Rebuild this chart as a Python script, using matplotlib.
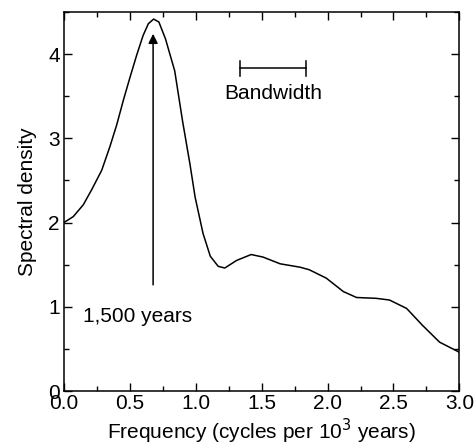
import matplotlib.pyplot as plt
from matplotlib.ticker import MultipleLocator

plt.rcParams['font.family'] = ['Liberation Sans', 'DejaVu Sans']

# Spectral density curve
freq = [0.00, 0.07, 0.146, 0.21, 0.286, 0.348, 0.40, 0.45, 0.50, 0.55, 0.60, 0.64,
        0.68, 0.72, 0.77, 0.84, 0.90, 0.955, 0.995, 1.055, 1.11, 1.17, 1.22, 1.31,
        1.42, 1.51, 1.64, 1.79, 1.86, 1.99, 2.12, 2.22, 2.37, 2.47, 2.60, 2.72,
        2.85, 3.00]
density = [2.00, 2.07, 2.21, 2.39, 2.62, 2.90, 3.16, 3.45, 3.72, 3.98, 4.22, 4.36,
           4.415, 4.38, 4.18, 3.80, 3.20, 2.70, 2.30, 1.87, 1.60, 1.48, 1.46, 1.55,
           1.62, 1.59, 1.51, 1.47, 1.44, 1.34, 1.18, 1.11, 1.10, 1.08, 0.98, 0.78,
           0.58, 0.46]

# Annotations
peak_freq = 0.676
arrow_from = 1.26
arrow_to = 4.24
peak_label = "1,500 years"
band_start, band_end, band_y = 1.336, 1.833, 3.83
band_label = "Bandwidth"

fs = 15

fig = plt.figure(figsize=(4.76, 4.46), dpi=100)
ax = fig.add_axes([0.1345, 0.1233, 0.8305, 0.85])

ax.plot(freq, density, color='black', linewidth=1.1)

# Peak arrow
ax.annotate('', xy=(peak_freq, arrow_to), xytext=(peak_freq, arrow_from),
            arrowprops=dict(arrowstyle='-|>', color='black', lw=1.1,
                            mutation_scale=14, shrinkA=0, shrinkB=0))
ax.text(0.56, 0.89, peak_label, fontsize=fs, ha='center', va='center')

# Bandwidth bar
ax.plot([band_start, band_end], [band_y, band_y], color='black', linewidth=1.1)
ax.plot([band_start, band_start], [band_y - 0.09, band_y + 0.09], color='black', linewidth=1.1)
ax.plot([band_end, band_end], [band_y - 0.09, band_y + 0.09], color='black', linewidth=1.1)
ax.text((band_start + band_end) / 2, 3.53, band_label, fontsize=fs,
        ha='center', va='center')

ax.set_xlim(0, 3.0)
ax.set_ylim(0, 4.5)
ax.xaxis.set_major_locator(MultipleLocator(0.5))
ax.xaxis.set_minor_locator(MultipleLocator(0.25))
ax.yaxis.set_major_locator(MultipleLocator(1))
ax.yaxis.set_minor_locator(MultipleLocator(0.5))
ax.set_xticklabels([f"{v:.1f}" for v in ax.get_xticks()])

ax.tick_params(which='both', direction='in', top=True, right=True,
               labelsize=fs, width=1.0)
ax.tick_params(axis='x', which='major', length=6, pad=2)
ax.tick_params(axis='y', which='major', length=6, pad=3)
ax.tick_params(which='minor', length=3.5)
for s in ax.spines.values():
    s.set_linewidth(1.1)

ax.set_xlabel("Frequency (cycles per 10$^{3}$ years)", fontsize=fs, labelpad=3)
ax.set_ylabel("Spectral density", fontsize=fs, labelpad=8)

fig.savefig("out.png", dpi=100)
